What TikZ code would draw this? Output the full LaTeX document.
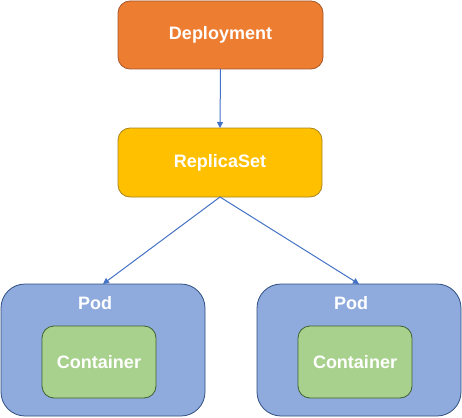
\documentclass[tikz,border=0pt]{standalone}
\usepackage{fontspec}
\setmainfont{Liberation Sans}
\usetikzlibrary{arrows.meta,positioning}

\definecolor{deplfill}{HTML}{ED7D31}
\definecolor{deplline}{HTML}{A5562A}
\definecolor{replfill}{HTML}{FFC000}
\definecolor{replline}{HTML}{A88420}
\definecolor{podfill}{HTML}{8FAADC}
\definecolor{podline}{HTML}{2F4F7F}
\definecolor{contfill}{HTML}{A9D18E}
\definecolor{contline}{HTML}{3F6030}
\definecolor{arrowblue}{HTML}{4472C4}

\tikzset{
  box/.style={draw, line width=0.8pt, outer sep=0pt, text=white,
    font=\fontsize{18}{21}\selectfont\bfseries},
  deploybox/.style={box, fill=deplfill, draw=deplline, rounded corners=12pt,
    minimum width=205pt, minimum height=68pt},
  replicabox/.style={box, fill=replfill, draw=replline, rounded corners=12pt,
    minimum width=204pt, minimum height=69pt},
  podbox/.style={box, fill=podfill, draw=podline, rounded corners=24pt,
    minimum width=204pt, minimum height=132pt},
  contbox/.style={box, fill=contfill, draw=contline, rounded corners=12pt,
    minimum width=114pt, minimum height=72pt},
  podtext/.style={text=white, font=\fontsize{18}{21}\selectfont\bfseries},
  conn/.style={draw=arrowblue, line width=1pt, -{Triangle[length=6pt,width=6pt]}}
}

\begin{document}
\begin{tikzpicture}[x=1pt,y=-1pt]
  \useasboundingbox (0,0) rectangle (462,417);

  \node[deploybox] (deploy) at (220.5,35) {Deployment};
  \node[replicabox] (replica) at (220,162.5) {ReplicaSet};

  % two pods, each with one container
  \node[podbox] (podL) at (103,350) {};
  \node[podbox] (podR) at (359,350) {};
  \node[podtext] (podLtext) at (95,303) {Pod};
  \node[podtext] (podRtext) at (351,303) {Pod};
  \node[contbox] (contL) at (99,362) {Container};
  \node[contbox] (contR) at (355,362) {Container};

  \draw[conn] (deploy.south) -- (replica.north);
  \draw[conn] (replica.south) -- (podL.north);
  \draw[conn] (replica.south) -- (podR.north);
\end{tikzpicture}
\end{document}
